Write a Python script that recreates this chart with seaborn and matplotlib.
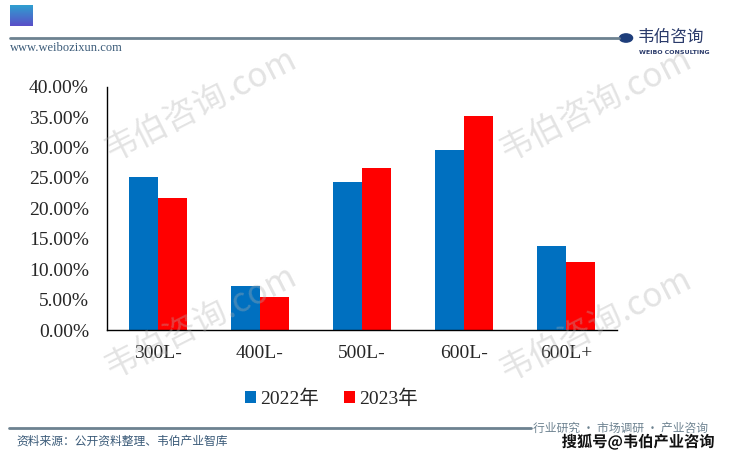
import numpy as np
import pandas as pd
import matplotlib
matplotlib.use("Agg")
import matplotlib.pyplot as plt
import matplotlib.patheffects as pe
from matplotlib.ticker import PercentFormatter, FixedLocator
import seaborn as sns

categories = ["300L-", "400L-", "500L-", "600L-", "600L+"]
share_2022 = [25.2, 7.18, 24.33, 29.54, 13.81]
share_2023 = [21.75, 5.42, 26.63, 35.13, 11.12]
years = ["2022年", "2023年"]

df = pd.DataFrame({
    "size": categories * 2,
    "share": share_2022 + share_2023,
    "year": [years[0]] * len(categories) + [years[1]] * len(categories),
})

sns.set_style("white")
serif = ["Liberation Serif", "Noto Sans CJK SC"]
plt.rcParams["font.family"] = serif

fig = plt.figure(figsize=(7.3, 4.59), dpi=100)
ax = fig.add_axes([0.1466, 0.281, 0.6986, 0.530])

sns.barplot(data=df, x="size", y="share", hue="year", palette=["#0070C0", "#FF0000"],
            width=0.57, saturation=1, linewidth=0, ax=ax, legend=True)

ax.set_ylim(0, 40)
ax.set_xlim(-0.5, len(categories) - 0.5)
ax.set_yticks(np.arange(0, 41, 5))
ax.yaxis.set_major_formatter(PercentFormatter(decimals=2))
ax.xaxis.set_minor_locator(FixedLocator(np.arange(0.5, len(categories), 1)))
ax.tick_params(axis="y", direction="in", length=4, width=1, color="black", pad=13, labelsize=14)
ax.tick_params(axis="x", which="major", length=0, pad=11, labelsize=14)
ax.tick_params(axis="x", which="minor", direction="in", length=5, width=1, color="black")
ax.set_xlabel("")
ax.set_ylabel("")
for s in ["top", "right"]:
    ax.spines[s].set_visible(False)
for s in ["left", "bottom"]:
    ax.spines[s].set_color("black")
    ax.spines[s].set_linewidth(1)

handles, labels = ax.get_legend_handles_labels()
ax.legend_.remove()
fig.legend(handles, labels, loc="center", bbox_to_anchor=(0.454, 0.131), ncol=2, frameon=False,
           handlelength=0.55, handleheight=0.55, handletextpad=0.2, columnspacing=1.3,
           prop={"family": serif, "size": 14})

# header
sq = fig.add_axes([10 / 730, 1 - 26 / 459, 23 / 730, 21 / 459])
grad = np.linspace(0, 1, 50).reshape(-1, 1)
sq.imshow(grad, aspect="auto", cmap=matplotlib.colors.LinearSegmentedColormap.from_list("g", ["#2f9fd0", "#5a4fc8"]))
sq.axis("off")
fig.add_artist(plt.Line2D([10 / 730, 619 / 730], [1 - 37.5 / 459] * 2, color="#6d8290", lw=2))
fig.add_artist(plt.Circle((626 / 730, 1 - 38 / 459), 0.009, color="#1d3d7a", transform=fig.transFigure))
fig.text(10 / 730, 1 - 48 / 459, "www.weibozixun.com", fontsize=9, color="#3a5a78",
         family=serif, va="center")
fig.text(638 / 730, 1 - 37 / 459, "韦伯咨询", fontsize=12, color="#2a3a6a",
         family=["Noto Sans CJK SC"], va="center")
fig.text(674 / 730, 1 - 52 / 459, "WEIBO CONSULTING", fontsize=4.5, color="#2a3a6a",
         family=["DejaVu Sans"], weight="bold", va="center", ha="center")

# footer
fig.add_artist(plt.Line2D([9 / 730, 531 / 730], [1 - 428 / 459] * 2, color="#6d8290", lw=2))
fig.text(16 / 730, 1 - 441 / 459, "资料来源：公开资料整理、韦伯产业智库", fontsize=8.5, color="#3a5a78",
         family=["Noto Sans CJK SC"], va="center")
fig.text(533 / 730, 1 - 428 / 459, "行业研究 · 市场调研 · 产业咨询", fontsize=8.5, color="#6d8290",
         family=["Noto Sans CJK SC"], va="center")
fig.text(638 / 730, 1 - 442 / 459, "搜狐号@韦伯产业咨询", fontsize=11, color="#111111",
         family=["Noto Sans CJK SC"], weight="bold", va="center", ha="center",
         path_effects=[pe.withStroke(linewidth=2.5, foreground="white")])

# watermarks
for cx, cy in [(200, 105), (595, 105), (200, 322), (595, 325)]:
    fig.text(cx / 730, 1 - cy / 459, "韦伯咨询.com", fontsize=24, color="#b0b0b0", alpha=0.35,
             rotation=27, ha="center", va="center", family=["Noto Sans CJK SC"], zorder=10)

fig.savefig("out.png", dpi=100)
